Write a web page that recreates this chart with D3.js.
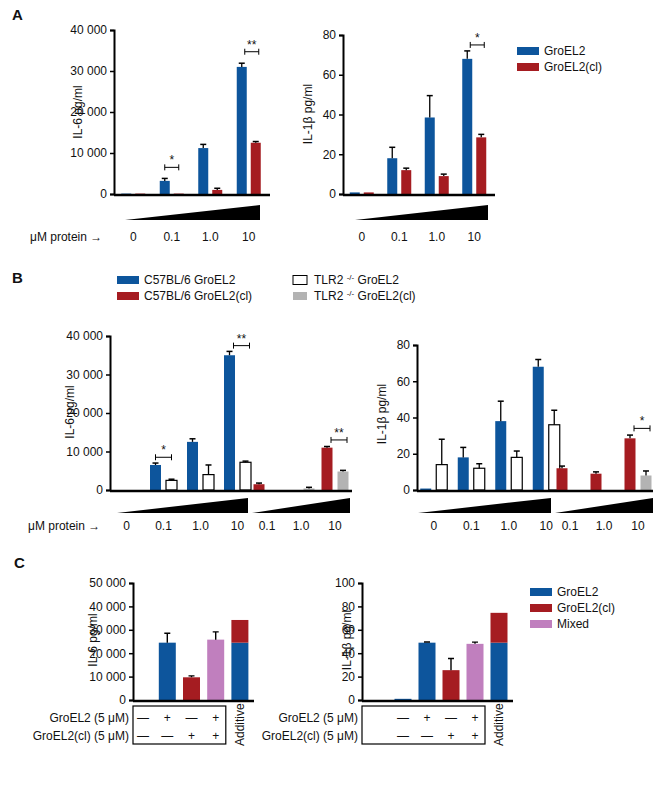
<!DOCTYPE html>
<html><head><meta charset="utf-8">
<script src="https://cdn.jsdelivr.net/npm/d3@7"></script>
<style>body{margin:0;background:#fff}text{font-family:"Liberation Sans",Arial,sans-serif;fill:#111}</style>
</head><body><svg id="c" width="653" height="800"></svg>
<script>
const BLUE="#0d559c",RED="#a51c21",GRAY="#b3b3b3",MIX="#c07fbe",WHITE="#fff";
// Panel A
const doses=["0","0.1","1.0","10"];
const aIL6=[100,3200,11200,31000], aIL6e=[0,600,900,900];
const aIL6cl=[100,100,1000,12500], aIL6cle=[0,0,400,300];
const aIL1=[0.8,18,38.5,68], aIL1e=[0,5.5,11,4];
const aIL1cl=[0.8,12,9,28.5], aIL1cle=[0,1,1,1.5];
// Panel B
const dosesCl=["0.1","1.0","10"];
const bIL6wt=[0,6500,12500,35000], bIL6wte=[0,500,800,1000];
const bIL6ko=[0,2500,4000,7200], bIL6koe=[0,300,2500,300];
const bIL6wtcl=[1500,0,11000], bIL6wtcle=[300,0,300];
const bIL6kocl=[0,400,4800], bIL6kocle=[0,300,300];
const bIL1wt=[0.8,18,38,68], bIL1wte=[0,5.5,11,4];
const bIL1ko=[14,12,18,36], bIL1koe=[14,2.5,3.5,8];
const bIL1wtcl=[12,9,28.5], bIL1wtcle=[1.2,1,1.8];
const bIL1kocl=[0,0,8], bIL1kocle=[0,0,2.5];
// Panel C
const cConds=["none","gro","cl","mix","add"];
const cIL6=[0,24500,9700,25800,24500], cIL6e=[0,4000,600,3300,0];
const cIL6cl=[0,0,0,0,9700];
const cIL1=[1,49,25.5,48,49], cIL1e=[0,0.6,10,1.5,0];
const cIL1cl=[0,0,0,0,25.5];
const cRow1=["—","+","—","+"], cRow2=["—","—","+","+"];

const svg=d3.select("#c");
function txt(x,y,s,o={}){const t=svg.append("text").attr("x",x).attr("y",y).text(s).attr("font-size",o.fs||12);
 if(o.anchor)t.attr("text-anchor",o.anchor); if(o.bold)t.attr("font-weight","bold"); if(o.rot)t.attr("transform",`rotate(-90,${x},${y})`); return t;}
function yAxis(x,y0,y1,max,ticks,fmt){
 const y=d3.scaleLinear().domain([0,max]).range([y0,y1]);
 const g=svg.append("g").attr("transform",`translate(${x},0)`).call(d3.axisLeft(y).tickValues(ticks).tickSize(4).tickFormat(fmt));
 g.select(".domain").attr("stroke-width",2);g.selectAll("line").attr("stroke-width",1.5);
 g.selectAll("text").attr("font-size",12).attr("font-family","Liberation Sans, Arial");return y;}
const fmtK=d=>d===0?"0":d3.format(",")(d).replace(","," ");
function bars(xs,cats,vals,errs,y,color,sub,off,w){
 cats.forEach((c,i)=>{const cx=xs(c)+xs.bandwidth()/2+off;const v=vals[i];
  if(v>0){svg.append("rect").attr("x",cx-w/2).attr("y",y(v)).attr("width",w).attr("height",y(0)-y(v))
   .attr("fill",color).attr("stroke",color===WHITE?"#000":"none").attr("stroke-width",1.2);}
  const e=errs[i]; if(e>0){svg.append("line").attr("x1",cx).attr("x2",cx).attr("y1",y(v)).attr("y2",y(v+e)).attr("stroke","#000").attr("stroke-width",1.3);
   svg.append("line").attr("x1",cx-3).attr("x2",cx+3).attr("y1",y(v+e)).attr("y2",y(v+e)).attr("stroke","#000").attr("stroke-width",1.5);}
 });}
function base(x0,x1,y){svg.append("line").attr("x1",x0).attr("x2",x1).attr("y1",y).attr("y2",y).attr("stroke","#000").attr("stroke-width",2.5);}
function tri(x0,x1,y,h){svg.append("path").attr("d",`M${x0},${y}L${x1},${y-h}L${x1},${y}Z`).attr("fill","#000");}
function sig(x0,x1,yy,s){svg.append("path").attr("d",`M${x0},${yy-3}V${yy+3}M${x0},${yy}H${x1}M${x1},${yy-3}V${yy+3}`).attr("stroke","#000").attr("stroke-width",1);
 txt((x0+x1)/2,yy-3,s,{anchor:"middle",fs:12});}
function leg(x,y,color,label,w=22,h=8){svg.append("rect").attr("x",x).attr("y",y-h/2-4).attr("width",w).attr("height",h).attr("fill",color).attr("stroke",color===WHITE?"#000":"none");
 return txt(x+w+5,y,label,{fs:12});}

// ===== A =====
txt(12,20,"A",{fs:15,bold:true});
let y=yAxis(114,194,30,40000,[0,10000,20000,30000,40000],fmtK);
let xs=d3.scaleBand().domain(doses).range([114,268]);
bars(xs,doses,aIL6,aIL6e,y,BLUE,0,-7,10);bars(xs,doses,aIL6cl,aIL6cle,y,RED,0,7,10);
base(114,270,195);tri(125,260,220,15);
doses.forEach(d=>txt(xs(d)+xs.bandwidth()/2,241,d,{anchor:"middle"}));
txt(30,241,"μM protein →");
txt(82,112,"IL-6  pg/ml",{anchor:"middle",rot:true});
sig(xs("0.1")+xs.bandwidth()/2-7,xs("0.1")+xs.bandwidth()/2+7,y(6500),"*");
sig(xs("10")+xs.bandwidth()/2-4,xs("10")+xs.bandwidth()/2+10,y(34700),"**");

y=yAxis(343,194,35,80,[0,20,40,60,80],d3.format("d"));
xs=d3.scaleBand().domain(doses).range([343,493]);
bars(xs,doses,aIL1,aIL1e,y,BLUE,0,-7,10);bars(xs,doses,aIL1cl,aIL1cle,y,RED,0,7,10);
base(343,495,195);tri(355,488,220,15);
doses.forEach(d=>txt(xs(d)+xs.bandwidth()/2,241,d,{anchor:"middle"}));
txt(312,114,"IL-1β pg/ml",{anchor:"middle",rot:true});
sig(xs("10")+xs.bandwidth()/2-4,xs("10")+xs.bandwidth()/2+10,y(75),"*");
leg(517,55,BLUE,"GroEL2");leg(517,71,RED,"GroEL2(cl)");

// ===== B =====
txt(12,283,"B",{fs:15,bold:true});
leg(117,284,BLUE,"C57BL/6 GroEL2");leg(117,300,RED,"C57BL/6 GroEL2(cl)");
leg(293,284,WHITE,"",14,9);
let t=txt(314,284,"TLR2 ");t.append("tspan").attr("dy",-4).attr("font-size",8).text("-/-");t.append("tspan").attr("dy",4).text(" GroEL2");
leg(293,300,GRAY,"",14,8);
t=txt(314,300,"TLR2 ");t.append("tspan").attr("dy",-4).attr("font-size",8).text("-/-");t.append("tspan").attr("dy",4).text(" GroEL2(cl)");

y=yAxis(110,490,336,40000,[0,10000,20000,30000,40000],fmtK);
let x1=d3.scaleBand().domain(doses).range([108,256]);
let x2=d3.scaleBand().domain(dosesCl).range([250,352]);
bars(x1,doses,bIL6wt,bIL6wte,y,BLUE,0,-8,11);bars(x1,doses,bIL6ko,bIL6koe,y,WHITE,0,8,11);
bars(x2,dosesCl,bIL6wtcl,bIL6wtcle,y,RED,0,-8,11);bars(x2,dosesCl,bIL6kocl,bIL6kocle,y,GRAY,0,8,11);
base(110,352,491);tri(117,248,513,15);tri(252,350,513,15);
doses.forEach(d=>txt(x1(d)+x1.bandwidth()/2,530,d,{anchor:"middle"}));
dosesCl.forEach(d=>txt(x2(d)+x2.bandwidth()/2,530,d,{anchor:"middle"}));
txt(28,530,"μM protein →");
txt(74,412,"IL-6  pg/ml",{anchor:"middle",rot:true});
let c=x1("0.1")+x1.bandwidth()/2;sig(c-8,c+8,y(8500),"*");
c=x1("10")+x1.bandwidth()/2;sig(c-4,c+12,y(37500),"**");
c=x2("10")+x2.bandwidth()/2;sig(c-4,c+12,y(13000),"**");

y=yAxis(417,490,345,80,[0,20,40,60,80],d3.format("d"));
x1=d3.scaleBand().domain(doses).range([415,565]);
x2=d3.scaleBand().domain(dosesCl).range([553,655]);
bars(x1,doses,bIL1wt,bIL1wte,y,BLUE,0,-8,11);bars(x1,doses,bIL1ko,bIL1koe,y,WHITE,0,8,11);
bars(x2,dosesCl,bIL1wtcl,bIL1wtcle,y,RED,0,-8,11);bars(x2,dosesCl,bIL1kocl,bIL1kocle,y,GRAY,0,8,11);
base(417,655,491);tri(418,551,513,15);tri(555,653,513,15);
doses.forEach(d=>txt(x1(d)+x1.bandwidth()/2,530,d,{anchor:"middle"}));
dosesCl.forEach(d=>txt(x2(d)+x2.bandwidth()/2,530,d,{anchor:"middle"}));
txt(386,414,"IL-1β pg/ml",{anchor:"middle",rot:true});
c=x2("10")+x2.bandwidth()/2;sig(c-4,c+12,y(34),"*");

// ===== C =====
txt(14,568,"C",{fs:15,bold:true});
function panelC(ax,vals,errs,cl,max,ticks,fmt,range,title,tx){
 const y=yAxis(ax,700,583,max,ticks,fmt);
 const xs=d3.scaleBand().domain(cConds).range(range);
 const bw=17;
 cConds.forEach((k,i)=>{const cx=xs(k)+xs.bandwidth()/2;const col=i===2?RED:i===3?MIX:BLUE;
  if(vals[i]>0)svg.append("rect").attr("x",cx-bw/2).attr("y",y(vals[i])).attr("width",bw).attr("height",y(0)-y(vals[i])).attr("fill",col);
  if(cl[i]>0)svg.append("rect").attr("x",cx-bw/2).attr("y",y(vals[i]+cl[i])).attr("width",bw).attr("height",y(0)-y(cl[i])).attr("fill",RED);
  if(errs[i]>0){const e=y(vals[i]+errs[i]);svg.append("path").attr("d",`M${cx},${y(vals[i])}V${e}M${cx-3},${e}H${cx+3}`).attr("stroke","#000").attr("stroke-width",1.4).attr("fill","none");}
 });
 base(ax,range[1]+2,701);
 const boxR=xs("add")-2;
 svg.append("rect").attr("x",ax).attr("y",706).attr("width",boxR-ax).attr("height",38).attr("fill","none").attr("stroke","#000").attr("stroke-width",1.2);
 cRow1.forEach((s,i)=>txt(xs(cConds[i])+xs.bandwidth()/2,722,s,{anchor:"middle"}));
 cRow2.forEach((s,i)=>txt(xs(cConds[i])+xs.bandwidth()/2,740,s,{anchor:"middle"}));
 txt(ax-4,722,"GroEL2 (5 μM)",{anchor:"end"});txt(ax-4,740,"GroEL2(cl) (5 μM)",{anchor:"end"});
 const ac=xs("add")+xs.bandwidth()/2+4;txt(ac,746,"Additive",{rot:true});
 txt(tx,640,title,{anchor:"middle",rot:true});
}
panelC(133,cIL6,cIL6e,cIL6cl,50000,[0,10000,20000,30000,40000,50000],fmtK,[131,252],"IL-6  pg/ml",97);
panelC(362,cIL1,cIL1e,cIL1cl,100,[0,20,40,60,80,100],d3.format("d"),[391,511],"IL-1β pg/ml",351);
leg(530,596,BLUE,"GroEL2");leg(530,612,RED,"GroEL2(cl)");leg(530,628,MIX,"Mixed");
</script></body></html>
